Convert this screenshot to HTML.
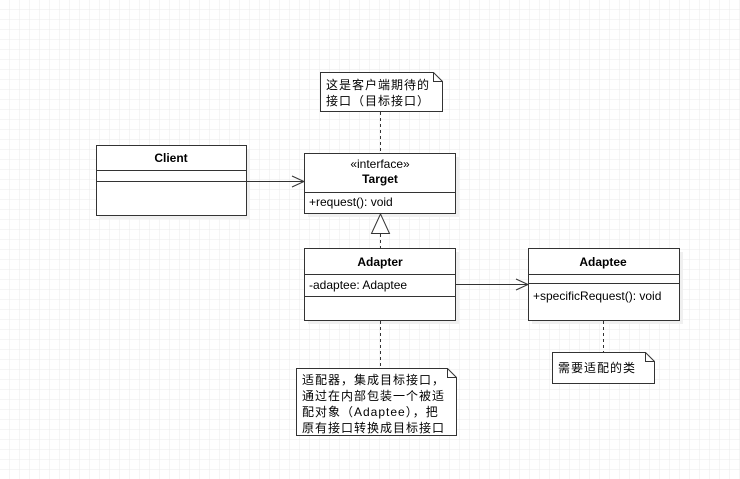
<!DOCTYPE html><html><head><style>body{margin:0;background:#fff}svg{display:block}text{font-family:"Liberation Sans","Noto Sans CJK SC",sans-serif;font-size:12px;fill:#000}.n{letter-spacing:1px}</style></head><body>
<svg width="740" height="479" xmlns="http://www.w3.org/2000/svg">
<defs><pattern id="g" width="10" height="10" patternUnits="userSpaceOnUse"><path d="M10 0V10H0" fill="none" stroke="#ebebeb" stroke-width="1"/></pattern></defs>
<rect width="740" height="479" fill="url(#g)"/>
<g fill="#f0f0f0"><rect x="100" y="149" width="150" height="70"/><rect x="308" y="157" width="151" height="60"/><rect x="308" y="252" width="151" height="72"/><rect x="532" y="252" width="151" height="72"/></g>
<g stroke="#333" stroke-width="1" fill="#fff">
<rect x="96.5" y="145.5" width="150" height="70"/><line x1="96" y1="170.5" x2="246" y2="170.5"/><line x1="96" y1="181.5" x2="246" y2="181.5"/>
<rect x="304.5" y="153.5" width="151" height="60"/><line x1="304" y1="192.5" x2="455" y2="192.5"/>
<rect x="304.5" y="248.5" width="151" height="72"/><line x1="304" y1="274.5" x2="455" y2="274.5"/><line x1="304" y1="296.5" x2="455" y2="296.5"/>
<rect x="528.5" y="248.5" width="151" height="72"/><line x1="528" y1="274.5" x2="679" y2="274.5"/><line x1="528" y1="283.5" x2="679" y2="283.5"/>
<path d="M320.5 72.5H433.5L442.5 81.5V111.5H320.5Z"/><path d="M433.5 72.5V81.5H442.5" fill="none"/>
<path d="M296.5 368.5H447.5L456.5 377.5V435.5H296.5Z"/><path d="M447.5 368.5V377.5H456.5" fill="none"/>
<path d="M552.5 352.5H645.5L654.5 361.5V383.5H552.5Z"/><path d="M645.5 352.5V361.5H654.5" fill="none"/>
<path d="M380.5 214L371.5 233.5H389.5Z"/>
</g>
<g stroke="#333" fill="none" stroke-dasharray="3,3">
<line x1="380.5" y1="112" x2="380.5" y2="153"/><line x1="380.5" y1="234" x2="380.5" y2="248"/><line x1="380.5" y1="321" x2="380.5" y2="368"/><line x1="603.5" y1="321" x2="603.5" y2="352"/>
</g>
<g stroke="#333" fill="none">
<path d="M246 181.5H304M292 176L304 181.5L292 187"/>
<path d="M455 284.5H528M516 279L528 284.5L516 290"/>
</g>
<text x="171" y="162" text-anchor="middle" font-weight="bold">Client</text>
<text x="380" y="168" text-anchor="middle" fill="#333">«interface»</text>
<text x="380" y="183" text-anchor="middle" font-weight="bold">Target</text>
<text x="309" y="206">+request(): void</text>
<text x="380" y="266" text-anchor="middle" font-weight="bold">Adapter</text>
<text x="309" y="289">-adaptee: Adaptee</text>
<text x="603" y="266" text-anchor="middle" font-weight="bold">Adaptee</text>
<text x="533" y="300">+specificRequest(): void</text>
<text class="n" x="326" y="89">这是客户端期待的</text><text class="n" x="326" y="105">接口（目标接口）</text>
<text class="n" x="302" y="384">适配器，集成目标接口，</text><text class="n" x="302" y="400">通过在内部包装一个被适</text><text class="n" x="302" y="416">配对象（Adaptee），把</text><text class="n" x="302" y="432">原有接口转换成目标接口</text>
<text class="n" x="558" y="372">需要适配的类</text>
</svg></body></html>
